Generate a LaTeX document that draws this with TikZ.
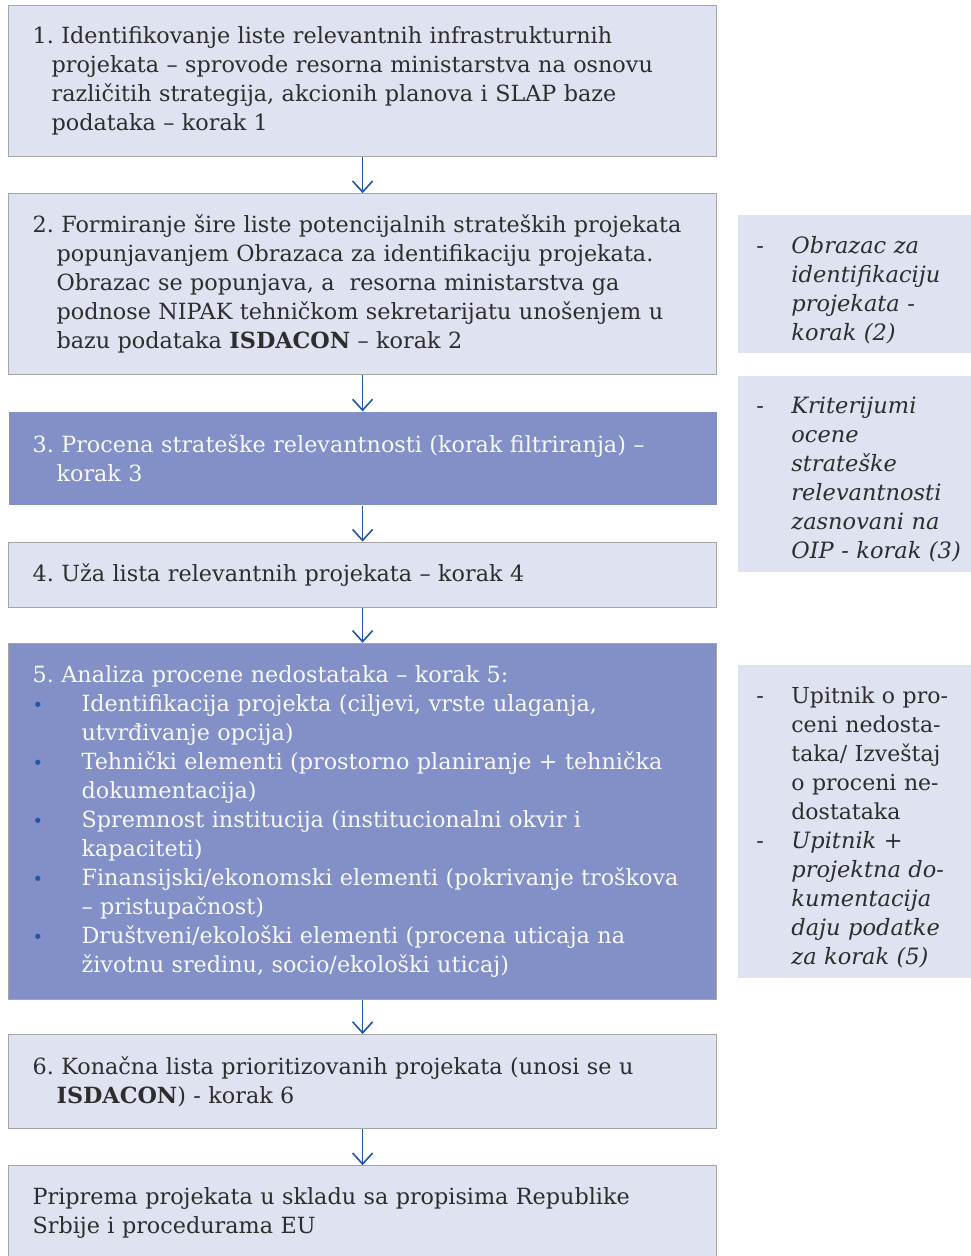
\documentclass[tikz,border=0pt]{standalone}
\usepackage{fontspec}
\setmainfont{DejaVu Serif}
\usetikzlibrary{positioning,arrows.meta}
\definecolor{svetla}{RGB}{223,226,241}
\definecolor{tamna}{RGB}{131,144,199}
\definecolor{okvir}{RGB}{166,166,166}
\definecolor{plava}{RGB}{31,86,168}
\definecolor{tekst}{RGB}{45,45,45}
\newcommand{\uvuci}[1]{\hangindent=#1\hangafter=1 }
\newcommand{\tacka}{\par\hangindent=49pt\hangafter=1\noindent\makebox[49pt][l]{\textcolor{plava}{\fontsize{18}{18}\selectfont\textbullet}}}
\newcommand{\crta}{\par\hangindent=35pt\hangafter=1\noindent\makebox[35pt][l]{\upshape-}}
\tikzset{
  korak/.style={draw=okvir, line width=1.2pt, fill=svetla, text width=660pt, inner xsep=24pt,
    align=left, text=tekst, font=\fontsize{22.3}{29}\selectfont\frenchspacing},
  korakt/.style={korak, fill=tamna, text={white!94!tamna}},
  napomena/.style={fill=svetla, text width=230pt, inner xsep=18pt, align=left, text=tekst,
    font=\fontsize{22.5}{29}\selectfont\frenchspacing},
  strelica/.style={draw=plava, line width=1.6pt, -{Straight Barb[length=11pt,width=20pt]}}
}
\begin{document}
\begin{tikzpicture}[node distance=36pt]
\useasboundingbox (0,0) rectangle (970pt,-1256pt);
\fill node[korak, minimum height=151pt, anchor=north west] (k1) at (8pt,-5pt)
  {\uvuci{19pt}1. Identifikovanje liste relevantnih infrastrukturnih\newline
   projekata – sprovode resorna ministarstva na osnovu\newline
   različitih strategija, akcionih planova i SLAP baze\newline
   podataka – korak 1\par};
\fill node[korak, minimum height=181pt, below=of k1] (k2)
  {\uvuci{24pt}2. Formiranje šire liste potencijalnih strateških projekata\newline
   popunjavanjem Obrazaca za identifikaciju projekata.\newline
   Obrazac se popunjava, a\ \ resorna ministarstva ga\newline
   podnose NIPAK tehničkom sekretarijatu unošenjem u\newline
   bazu podataka \textbf{ISDACON} – korak 2\par};
\fill node[korakt, draw=none, minimum height=93pt, below=of k2] (k3)
  {\uvuci{24pt}3. Procena strateške relevantnosti (korak filtriranja) –\newline
   korak 3\par};
\fill node[korak, minimum height=65pt, below=36pt of k3] (k4)
  {4. Uža lista relevantnih projekata – korak 4};
\fill node[korakt, minimum height=356pt, below=35pt of k4] (k5)
  {\noindent 5. Analiza procene nedostataka – korak 5:
   \tacka Identifikacija projekta (ciljevi, vrste ulaganja,\newline utvrđivanje opcija)
   \tacka Tehnički elementi (prostorno planiranje + tehnička\newline dokumentacija)
   \tacka Spremnost institucija (institucionalni okvir i\newline kapaciteti)
   \tacka Finansijski/ekonomski elementi (pokrivanje troškova\newline – pristupačnost)
   \tacka Društveni/ekološki elementi (procena uticaja na\newline životnu sredinu, socio/ekološki uticaj)\par};
\fill node[korak, minimum height=94pt, below=34pt of k5] (k6)
  {\uvuci{24pt}6. Konačna lista prioritizovanih projekata (unosi se u\newline
   \textbf{ISDACON}) - korak 6\par};
\fill node[korak, minimum height=94pt, below=36pt of k6] (k7)
  {Priprema projekata u skladu sa propisima Republike\newline
   Srbije i procedurama EU};

\fill node[napomena, minimum height=138pt, anchor=west] (p2) at ([xshift=21pt]k2.east)
  {\crta\itshape Obrazac za\newline identifikaciju\newline projekata -\newline korak (2)\par};
\fill node[napomena, minimum height=196pt, below=22pt of p2] (p3)
  {\crta\itshape Kriterijumi\newline ocene\newline strateške\newline relevantnosti\newline zasnovani na\newline OIP - korak (3)\par};
\fill node[napomena, minimum height=313pt, anchor=west] (p5) at ([xshift=21pt]k5.east)
  {\crta{\fontsize{22}{29}\selectfont Upitnik o pro-\newline ceni nedosta-\newline taka/ Izveštaj\newline o proceni ne-\newline dostataka}
   \crta{\itshape Upitnik +\newline projektna do-\newline kumentacija\newline daju podatke\newline za korak (5)\par}};

\draw[strelica] (k1) -- (k2);
\draw[strelica] (k2) -- (k3);
\draw[strelica] (k3) -- (k4);
\draw[strelica] (k4) -- (k5);
\draw[strelica] (k5) -- (k6);
\draw[strelica] (k6) -- (k7);
\end{tikzpicture}
\end{document}
